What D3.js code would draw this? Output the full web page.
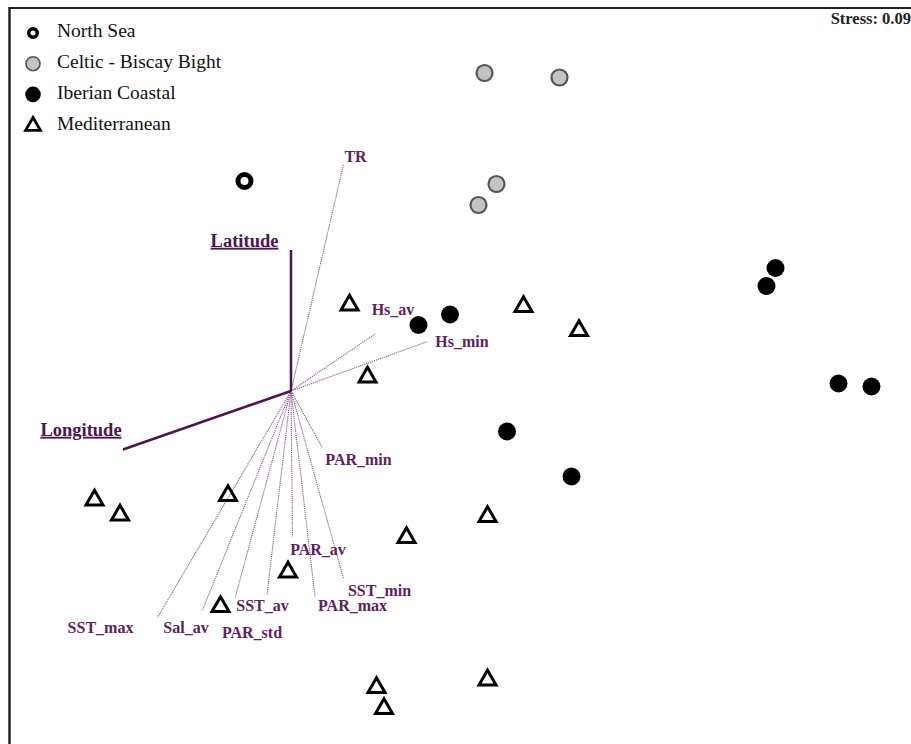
<!DOCTYPE html>
<html>
<head>
<meta charset="utf-8">
<script src="https://cdn.jsdelivr.net/npm/d3@7"></script>
<style>
  html, body { margin: 0; padding: 0; background: #fff; }
  svg { display: block; }
  text { font-family: "Liberation Serif", "DejaVu Serif", serif; }
</style>
</head>
<body>
<svg id="chart" width="911" height="744"></svg>
<script>
// NMDS ordination scores (axis 1, axis 2) by region
const northSea = [[-0.31, 1.40]];
const celticBiscay = [[1.29, 2.12], [1.79, 2.09], [1.37, 1.38], [1.25, 1.24]];
const iberianCoastal = [[3.23, 0.82], [3.17, 0.70], [1.06, 0.51], [0.85, 0.44],
                        [3.65, 0.05], [3.87, 0.03], [1.44, -0.27], [1.87, -0.57]];
const mediterranean = [[0.39, 0.58], [1.55, 0.57], [1.92, 0.41], [0.51, 0.10],
                       [-1.31, -0.72], [-1.14, -0.82], [-0.42, -0.69], [1.31, -0.83],
                       [0.77, -0.97], [-0.02, -1.20], [-0.47, -1.43], [0.57, -1.97],
                       [1.31, -1.92], [0.62, -2.11]];

// Fitted environmental vectors (end point in ordination units)
const spatialVectors = [
  { name: "Latitude",  x: 0.00, y: 0.94 },
  { name: "Longitude", x: -1.12, y: -0.39 }
];
const envVectors = [
  { name: "TR",      x: 0.35,  y: 1.51 },
  { name: "Hs_av",   x: 0.56,  y: 0.38 },
  { name: "Hs_min",  x: 0.91,  y: 0.33 },
  { name: "PAR_min", x: 0.21,  y: -0.38 },
  { name: "PAR_av",  x: 0.01,  y: -0.97 },
  { name: "SST_min", x: 0.35,  y: -1.25 },
  { name: "PAR_max", x: 0.16,  y: -1.37 },
  { name: "PAR_std", x: -0.16, y: -1.36 },
  { name: "SST_av",  x: -0.37, y: -1.37 },
  { name: "Sal_av",  x: -0.59, y: -1.46 },
  { name: "SST_max", x: -0.89, y: -1.51 }
];

// Label anchor offsets for vector names (in ordination units, relative to vector tip)
const labelPositions = {
  "Latitude":  [-0.31, 0.05],
  "Longitude": [-0.28, 0.12],
  "TR":        [0.08, 0.04],
  "Hs_av":     [0.12, 0.15],
  "Hs_min":    [0.23, -0.01],
  "PAR_min":   [0.24, -0.09],
  "PAR_av":    [0.17, -0.10],
  "SST_min":   [0.24, -0.09],
  "PAR_max":   [0.25, -0.07],
  "PAR_std":   [-0.10, -0.26],
  "SST_av":    [0.18, -0.07],
  "Sal_av":    [-0.11, -0.13],
  "SST_max":   [-0.38, -0.08]
};

const legendItems = ["North Sea", "Celtic - Biscay Bight", "Iberian Coastal", "Mediterranean"];
const stressLabel = "Stress: 0.09";

const svg = d3.select("#chart");
const x = d3.scaleLinear().domain([-1, 2]).range([141, 591]);
const y = d3.scaleLinear().domain([-1, 1]).range([541, 241]);

const purpleDark = "#4e1350";
const purpleLabel = "#5e2262";
const purpleLine = "#8a5a8e";

// Frame (top and left rules)
svg.append("line").attr("x1", 9).attr("x2", 911).attr("y1", 8).attr("y2", 8)
  .attr("stroke", "#222").attr("stroke-width", 2);
svg.append("line").attr("x1", 9.5).attr("x2", 9.5).attr("y1", 7).attr("y2", 744)
  .attr("stroke", "#222").attr("stroke-width", 2.5);

// Environmental vectors (dotted)
const g = svg.append("g");
g.selectAll("line.env").data(envVectors).join("line")
  .attr("class", "env")
  .attr("x1", x(0)).attr("y1", y(0))
  .attr("x2", d => x(d.x)).attr("y2", d => y(d.y))
  .attr("stroke", purpleLine).attr("stroke-width", 1.1)
  .attr("stroke-dasharray", "1.2,0.9");

// Spatial vectors (solid, heavy)
g.selectAll("line.sp").data(spatialVectors).join("line")
  .attr("class", "sp")
  .attr("x1", x(0)).attr("y1", y(0))
  .attr("x2", d => x(d.x)).attr("y2", d => y(d.y))
  .attr("stroke", purpleDark).attr("stroke-width", 2.5);

g.selectAll("text.env").data(envVectors).join("text")
  .attr("class", "env")
  .attr("x", d => x(d.x + labelPositions[d.name][0]))
  .attr("y", d => y(d.y + labelPositions[d.name][1]))
  .attr("text-anchor", "middle")
  .attr("dominant-baseline", "middle")
  .attr("font-weight", "bold").attr("font-size", 16)
  .attr("fill", purpleLabel)
  .text(d => d.name);

g.selectAll("text.sp").data(spatialVectors).join("text")
  .attr("class", "sp")
  .attr("x", d => x(d.x + labelPositions[d.name][0]))
  .attr("y", d => y(d.y + labelPositions[d.name][1]))
  .attr("text-anchor", "middle")
  .attr("dominant-baseline", "middle")
  .attr("font-weight", "bold").attr("font-size", 18.5)
  .attr("text-decoration", "underline")
  .attr("fill", purpleDark)
  .text(d => d.name);

// Site markers
const tri = d3.symbol().type(d3.symbolTriangle).size(125);

function drawCircles(data, r, fill, stroke, sw) {
  g.append("g").selectAll("circle").data(data).join("circle")
    .attr("cx", d => x(d[0])).attr("cy", d => y(d[1]))
    .attr("r", r).attr("fill", fill).attr("stroke", stroke).attr("stroke-width", sw);
}
drawCircles(celticBiscay, 8, "#c3c3c3", "#555", 2.2);
drawCircles(iberianCoastal, 9, "#000", "none", 0);
drawCircles(northSea, 6.5, "#fff", "#000", 5);

g.append("g").selectAll("path").data(mediterranean).join("path")
  .attr("d", tri)
  .attr("transform", d => `translate(${x(d[0])},${y(d[1]) + 1})`)
  .attr("fill", "none").attr("stroke", "#000").attr("stroke-width", 3)
  .attr("stroke-linejoin", "miter");

// Legend
const legend = svg.append("g").attr("transform", "translate(33,33)");
const rowH = 30.7;
legendItems.forEach((name, i) => {
  const row = legend.append("g").attr("transform", `translate(0,${i * rowH})`);
  if (i === 0) {
    row.append("circle").attr("r", 4.3).attr("fill", "#fff").attr("stroke", "#000").attr("stroke-width", 3.4);
  } else if (i === 1) {
    row.append("circle").attr("r", 7).attr("fill", "#c3c3c3").attr("stroke", "#555").attr("stroke-width", 1.6);
  } else if (i === 2) {
    row.append("circle").attr("r", 7.8).attr("fill", "#000");
  } else {
    row.append("path").attr("d", d3.symbol().type(d3.symbolTriangle).size(95))
      .attr("transform", "translate(0,1)")
      .attr("fill", "none").attr("stroke", "#000").attr("stroke-width", 2.8);
  }
  row.append("text").attr("x", 24).attr("y", 0)
    .attr("dominant-baseline", "middle")
    .attr("font-size", 19.5).attr("fill", "#111")
    .text(name);
});

// Stress value
svg.append("text").attr("x", 911).attr("y", 20)
  .attr("text-anchor", "end").attr("dominant-baseline", "middle")
  .attr("font-weight", "bold").attr("font-size", 16.5)
  .attr("fill", "#222")
  .text(stressLabel);
</script>
</body>
</html>
